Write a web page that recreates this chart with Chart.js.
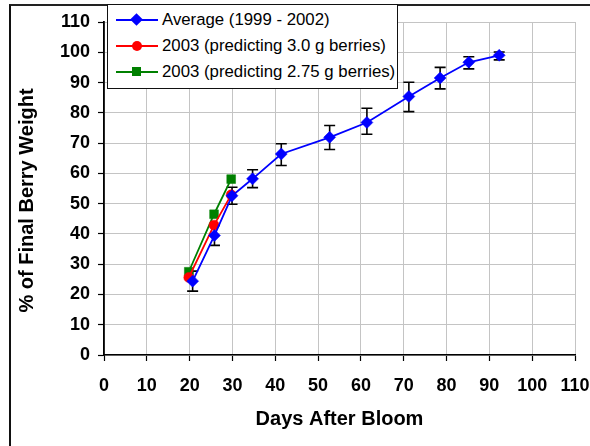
<!DOCTYPE html>
<html>
<head>
<meta charset="utf-8">
<script src="https://cdn.jsdelivr.net/npm/chart.js@4.4.1/dist/chart.umd.min.js"></script>
<style>
  html, body { margin: 0; padding: 0; background: #fff; }
  #wrap { position: relative; width: 590px; height: 446px; overflow: hidden; background: #fff; }
  #frame { position: absolute; left: 9px; top: 4px; width: 700px; height: 600px;
           border-left: 2px solid #111; border-top: 2px solid #222; pointer-events: none; }
  canvas { position: absolute; left: 0; top: 0; }
  #legend { position: absolute; left: 107px; top: 4px; width: 289px; height: 83px;
            border: 1.5px solid #111; background: #fff;
            font-family: "Liberation Sans", Arial, sans-serif; font-size: 16.8px; color: #000; }
  .row { position: absolute; left: 0; height: 20px; width: 289px; }
  .ln { position: absolute; left: 8px; width: 42px; height: 2px; top: 9px; }
  .mk { position: absolute; }
  .tx { position: absolute; left: 54px; top: 0; line-height: 20px; white-space: nowrap; }
</style>
</head>
<body>
<div id="wrap">
  <canvas id="c" width="590" height="446"></canvas>
  <div id="frame"></div>
  <div id="legend"></div>
</div>
<script>
// ---- data ----
const seriesNames = ['Average (1999 - 2002)', '2003 (predicting 3.0 g berries)', '2003 (predicting 2.75 g berries)'];
const avgDays  = [20.7, 25.8, 29.9, 34.7, 41.4, 52.7, 61.4, 71.2, 78.5, 85.2, 92.3];
const avgPct   = [24.4, 39.5, 52.6, 58.2, 66.4, 71.9, 76.8, 85.4, 91.5, 96.7, 99.0];
const avgLow   = [21.1, 36.2, 49.8, 55.3, 62.6, 67.9, 72.9, 80.4, 87.9, 94.5, 97.5];
const avgHigh  = [27.7, 42.8, 55.4, 61.2, 69.8, 75.8, 81.5, 90.1, 95.0, 98.5, 100.1];
const days2003 = [19.8, 25.7, 29.7];
const pct30    = [25.6, 42.9, 52.9];
const pct275   = [27.5, 46.5, 58.1];
const xTicks   = [0, 10, 20, 30, 40, 50, 60, 70, 80, 90, 100, 110];
const yTicks   = [0, 10, 20, 30, 40, 50, 60, 70, 80, 90, 100, 110];
const xTitle   = 'Days After Bloom';
const yTitle   = '% of Final Berry Weight';
const colors   = ['#0000ff', '#ff0000', '#008000'];
const shapes   = ['rectRot', 'circle', 'rect'];

const FONT = '"Liberation Sans", Arial, sans-serif';
const toPts = (xs, ys) => xs.map((v, i) => ({ x: v, y: ys[i] }));

const errorBars = {
  id: 'errorBars',
  beforeDatasetsDraw(chart) {
    const { ctx, scales: { x, y } } = chart;
    ctx.save();
    ctx.strokeStyle = '#000';
    ctx.lineWidth = 1.6;
    avgDays.forEach((d, i) => {
      const px = x.getPixelForValue(d);
      const lo = y.getPixelForValue(avgLow[i]);
      const hi = y.getPixelForValue(avgHigh[i]);
      ctx.beginPath();
      ctx.moveTo(px, lo); ctx.lineTo(px, hi);
      ctx.moveTo(px - 5.5, lo); ctx.lineTo(px + 5.5, lo);
      ctx.moveTo(px - 5.5, hi); ctx.lineTo(px + 5.5, hi);
      ctx.stroke();
    });
    ctx.restore();
  }
};

// y-axis title, placed slightly below the plot-area centre as in the reference
const yTitlePlugin = {
  id: 'yTitlePlugin',
  afterDraw(chart) {
    const { ctx, chartArea } = chart;
    ctx.save();
    ctx.translate(27, (chartArea.top + chartArea.bottom) / 2 + 12);
    ctx.rotate(-Math.PI / 2);
    ctx.font = 'bold 20px ' + FONT;
    ctx.fillStyle = '#000';
    ctx.textAlign = 'center';
    ctx.textBaseline = 'middle';
    ctx.fillText(yTitle, 0, 0);
    ctx.restore();
  }
};

const datasets = [
  { label: seriesNames[0], data: toPts(avgDays, avgPct), pointRadius: 6 },
  { label: seriesNames[1], data: toPts(days2003, pct30), pointRadius: 5 },
  { label: seriesNames[2], data: toPts(days2003, pct275), pointRadius: 6.2 }
].map((d, i) => Object.assign(d, {
  borderColor: colors[i], backgroundColor: colors[i],
  pointBackgroundColor: colors[i], pointBorderColor: colors[i], pointBorderWidth: 0.5,
  pointStyle: shapes[i], borderWidth: 1.8, tension: 0, showLine: true
}));

new Chart(document.getElementById('c'), {
  type: 'scatter',
  data: { datasets },
  options: {
    responsive: false,
    animation: false,
    events: [],
    layout: { autoPadding: false, padding: { left: 0, right: 15, top: 22, bottom: 0 } },
    plugins: { legend: { display: false }, tooltip: { enabled: false } },
    scales: {
      x: {
        type: 'linear', min: 0, max: 110,
        afterBuildTicks: s => { s.ticks = xTicks.map(v => ({ value: v })); },
        afterFit: s => { s.height = 91; s.paddingLeft = 0; s.paddingRight = 0; },
        ticks: { color: '#000', font: { family: FONT, size: 18, weight: 'bold' }, padding: 14, maxRotation: 0, autoSkip: false },
        grid: { color: '#c4c4c4', lineWidth: 1, tickColor: '#000', tickLength: 6, tickWidth: 1.2 },
        border: { color: '#000', width: 1.6 },
        title: { display: true, text: xTitle, color: '#000',
                 font: { family: FONT, size: 20, weight: 'bold' }, padding: { top: 0, bottom: 15 } }
      },
      y: {
        type: 'linear', min: 0, max: 110,
        afterBuildTicks: s => { s.ticks = yTicks.map(v => ({ value: v })); },
        afterFit: s => { s.width = 104; s.paddingTop = 0; s.paddingBottom = 0; },
        ticks: { color: '#000', font: { family: FONT, size: 18, weight: 'bold' }, padding: 8 },
        grid: { color: '#c4c4c4', lineWidth: 1, tickColor: '#000', tickLength: 6, tickWidth: 1.2 },
        border: { color: '#000', width: 1.8 },
        title: { display: false }
      }
    }
  },
  plugins: [errorBars, yTitlePlugin]
});

// ---- HTML legend (real text) ----
const legend = document.getElementById('legend');
const rowTops = [5, 31, 57];
seriesNames.forEach((name, i) => {
  const row = document.createElement('div');
  row.className = 'row';
  row.style.top = rowTops[i] + 'px';
  const ln = document.createElement('div');
  ln.className = 'ln'; ln.style.background = colors[i];
  const mk = document.createElement('div');
  mk.className = 'mk'; mk.style.background = colors[i];
  if (i === 0) { Object.assign(mk.style, { left: '24px', top: '5px', width: '9px', height: '9px', transform: 'rotate(45deg)' }); }
  if (i === 1) { Object.assign(mk.style, { left: '24px', top: '5px', width: '10px', height: '10px', borderRadius: '50%' }); }
  if (i === 2) { Object.assign(mk.style, { left: '24px', top: '5px', width: '9px', height: '9px' }); }
  const tx = document.createElement('div');
  tx.className = 'tx'; tx.textContent = name;
  row.appendChild(ln); row.appendChild(mk); row.appendChild(tx);
  legend.appendChild(row);
});
</script>
</body>
</html>
